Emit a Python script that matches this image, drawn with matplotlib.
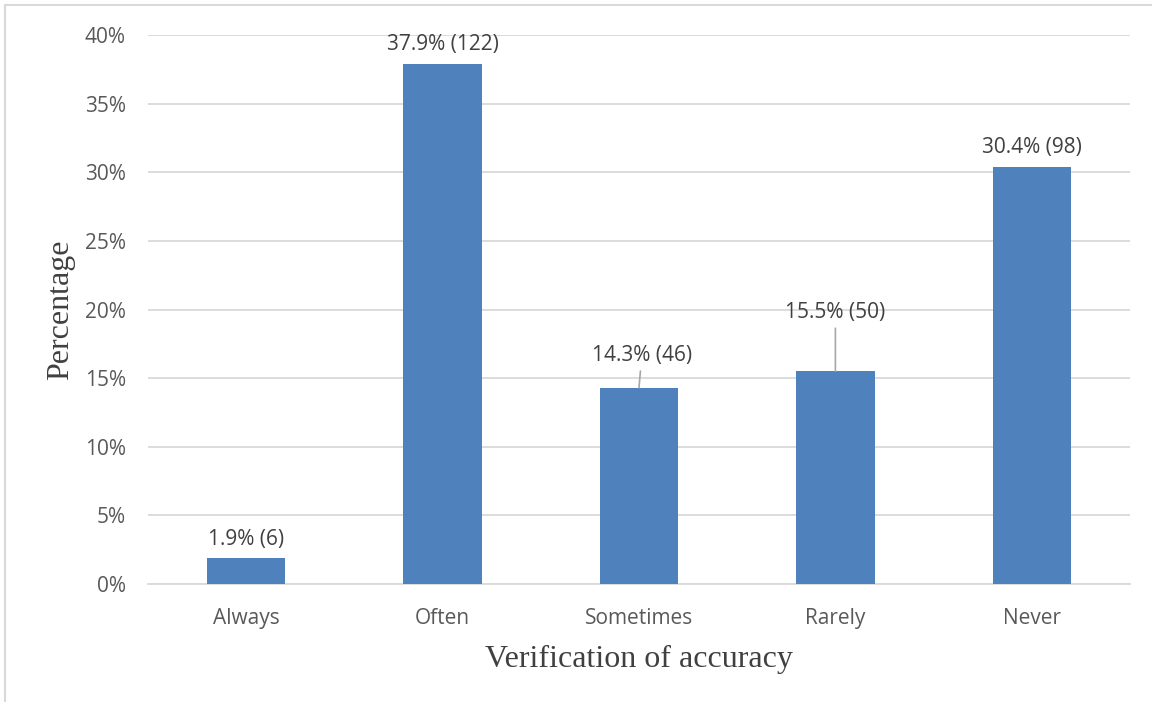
import numpy as np
import matplotlib.pyplot as plt
from matplotlib.patches import Rectangle
from matplotlib.ticker import PercentFormatter

categories = ['Always', 'Often', 'Sometimes', 'Rarely', 'Never']
percentages = [1.9, 37.9, 14.3, 15.5, 30.4]
counts = [6, 122, 46, 50, 98]

fig = plt.figure(figsize=(11.52, 7.02), dpi=100)
ax = fig.add_axes([148 / 1152, 1 - 584 / 702, 982 / 1152, 549 / 702])

x = np.arange(len(categories))
bars = ax.bar(x, percentages, width=0.4, color='#4f81bd', zorder=3)

ax.set_xlim(-0.5, len(categories) - 0.5)
ax.set_ylim(0, 40)
ax.set_yticks(np.arange(0, 41, 5))
ax.yaxis.set_major_formatter(PercentFormatter(decimals=0))
ax.set_xticks(x)
ax.set_xticklabels(categories)
ax.grid(axis='y', color='#d9d9d9', linewidth=1.3, zorder=0)
for side in ['top', 'right', 'left']:
    ax.spines[side].set_visible(False)
ax.spines['bottom'].set_color('#d9d9d9')
ax.spines['bottom'].set_linewidth(1.3)
ax.tick_params(length=0, labelsize=15, labelcolor='#595959')
ax.tick_params(axis='y', pad=16)
ax.tick_params(axis='x', pad=17)
for lbl in ax.get_xticklabels() + ax.get_yticklabels():
    lbl.set_family('Open Sans')

# label offsets in points; two labels sit higher with a leader line
offsets = [(0, 6), (0, 6), (2, 16), (0, 35), (0, 6)]
for rect, pct, n, off in zip(bars, percentages, counts, offsets):
    cx = rect.get_x() + rect.get_width() / 2
    leader = None
    if off[1] > 10:
        leader = dict(arrowstyle='-', color='#a6a6a6', lw=1.2, shrinkA=2, shrinkB=0)
    ax.annotate(f'{pct}% ({n})', xy=(cx, pct), xytext=off, textcoords='offset points',
                ha='center', va='bottom', fontsize=15, color='#404040', family='Open Sans',
                arrowprops=leader)

ax.set_ylabel('Percentage', family='Liberation Serif', fontsize=23, color='#404040')
ax.yaxis.set_label_coords((75 - 148) / 982, 0.5)
ax.set_xlabel('Verification of accuracy', family='Liberation Serif', fontsize=23,
              color='#404040', va='center')
ax.xaxis.set_label_coords(0.5, (584 - 659) / 549)

# chart frame
fig.patches.append(Rectangle((5 / 1152, -0.05), 1.2, 1 - 5 / 702 + 0.05, transform=fig.transFigure,
                             fill=False, edgecolor='#d9d9d9', linewidth=1.5))

fig.savefig('out.png', dpi=100)
